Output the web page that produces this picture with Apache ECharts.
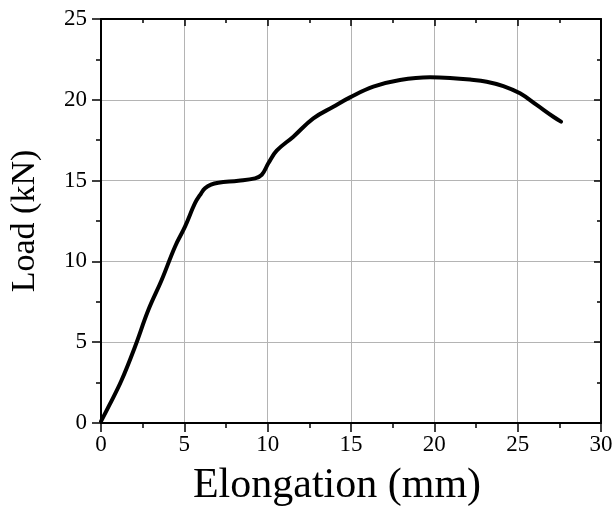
<!DOCTYPE html>
<html>
<head>
<meta charset="utf-8">
<script src="https://cdn.jsdelivr.net/npm/echarts@6/dist/echarts.min.js"></script>
<style>html,body{margin:0;padding:0;background:#fff;}#c{width:615px;height:510px;}</style>
</head>
<body>
<div id="c"></div>
<script>
const elongation = [0, 0.5, 1.24, 2.04, 2.84, 3.64, 4.44, 5.04, 5.64, 6.0, 6.24, 6.6, 7.04, 8.24, 9.24, 9.64, 10.04, 10.54, 11.54, 12.74, 13.94, 14.94, 16.34, 17.94, 19.74, 20.94, 22.14, 23.14, 24.14, 25.14, 26.14, 27.14, 27.6];
const load = [0.1, 1.1, 2.66, 4.72, 6.99, 8.85, 10.91, 12.15, 13.6, 14.2, 14.52, 14.75, 14.87, 14.99, 15.14, 15.35, 16.07, 16.85, 17.72, 18.85, 19.57, 20.15, 20.81, 21.22, 21.39, 21.35, 21.25, 21.12, 20.85, 20.4, 19.68, 18.95, 18.65];
const xTitle = 'Elongation (mm)';
const yTitle = 'Load (kN)';
const xRange = [0, 30, 5];
const yRange = [0, 25, 5];

const FONT = '"Liberation Serif", "Times New Roman", serif';
const chart = echarts.init(document.getElementById('c'), null, {renderer: 'canvas'});
const lineStyle = {color: '#000', width: 2};
const tickStyle = {color: '#000', width: 1.5};
function axis(range, pos, main, name) {
  const bottom = pos === 'bottom';
  return {
    type: 'value', position: pos, min: range[0], max: range[1], interval: range[2],
    axisLine: {show: true, onZero: false, lineStyle: lineStyle},
    axisTick: {show: true, inside: !main, length: main ? 9 : 7, lineStyle: tickStyle},
    minorTick: {show: true, splitNumber: 2, length: main ? 5 : 4, lineStyle: tickStyle},
    splitLine: {show: main, lineStyle: {color: '#b4b4b4', width: 1}},
    axisLabel: {show: main, color: '#000', fontFamily: FONT, fontSize: 23, margin: bottom ? 10 : 14},
    name: main ? name : '',
    nameLocation: 'middle',
    nameMoveOverlap: false,
    nameGap: bottom ? 42 : 59,
    nameTextStyle: {color: '#000', fontFamily: FONT, fontSize: bottom ? 42 : 34,
      padding: bottom ? [0, 28, 0, 0] : [0, 0, 0, 0]}
  };
}
chart.setOption({
  animation: false,
  backgroundColor: '#fff',
  grid: {left: 101, right: 14, top: 19, bottom: 87, containLabel: false, outerBoundsMode: 'none'},
  xAxis: [axis(xRange, 'bottom', true, xTitle), axis(xRange, 'top', false, '')],
  yAxis: [axis(yRange, 'left', true, yTitle), axis(yRange, 'right', false, '')],
  series: [{
    type: 'line', xAxisIndex: 0, yAxisIndex: 0,
    data: elongation.map((x, i) => [x, load[i]]),
    smooth: 0.4, showSymbol: false, symbol: 'none',
    lineStyle: {color: '#000', width: 4, cap: 'round', join: 'round'}
  }]
});
</script>
</body>
</html>
